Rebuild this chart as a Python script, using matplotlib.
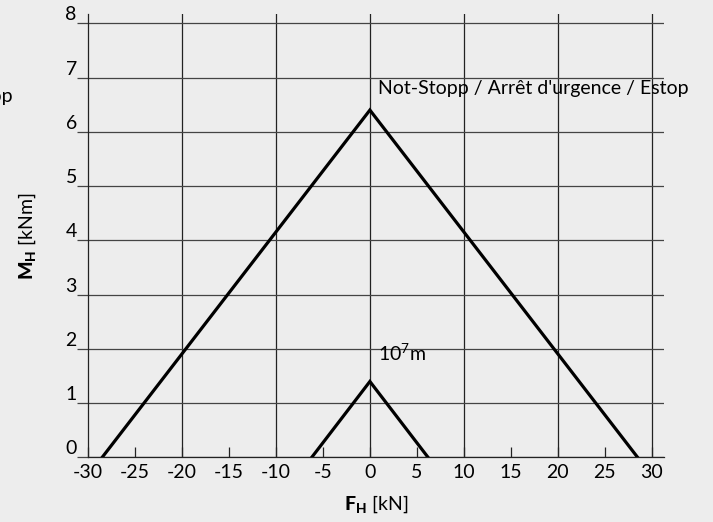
import matplotlib.pyplot as plt

# Lastkurven: Querkraft F_H [kN] gegen Moment M_H [kNm]
estop_f = [-28.5, 0, 28.5]
estop_m = [0, 6.4, 0]
small_f = [-6.2, 0, 6.2]
small_m = [0, 1.4, 0]

x_ticks = list(range(-30, 31, 5))
x_grid = list(range(-20, 31, 10))
y_ticks = list(range(0, 9))

estop_label = "Not-Stopp / Arrêt d'urgence / Estop"
small_label = "10$^7$m"

bg = '#ededed'
plt.rcParams['font.family'] = ['Lato', 'DejaVu Sans']
plt.rcParams['mathtext.fontset'] = 'custom'
plt.rcParams['mathtext.rm'] = 'Lato'
plt.rcParams['mathtext.bf'] = 'Lato:weight=black'

fig = plt.figure(figsize=(7.13, 5.22), dpi=100, facecolor=bg)
ax = fig.add_axes([0.1234, 0.1236, 0.8079, 0.8496])
ax.set_facecolor(bg)

ax.set_xlim(-30, 31.3)
ax.set_ylim(0, 8.17)

# Gitter
for x in x_grid:
    ax.axvline(x, color='#222222', lw=0.9, zorder=1)
for y in y_ticks:
    ax.axhline(y, color='#444444', lw=0.9, zorder=1)

ax.plot(estop_f, estop_m, color='black', lw=2.3, solid_joinstyle='miter', zorder=3)
ax.plot(small_f, small_m, color='black', lw=2.3, solid_joinstyle='miter', zorder=3)

ax.text(0.9, 6.8, estop_label, fontsize=14, va='center', ha='left')
ax.text(0.9, 1.92, small_label, fontsize=14, va='center', ha='left')

for s in ['top', 'right']:
    ax.spines[s].set_visible(False)
ax.spines['left'].set_color('#222222')
ax.spines['bottom'].set_color('#222222')
ax.spines['left'].set_linewidth(0.9)
ax.spines['bottom'].set_linewidth(0.9)

ax.set_xticks(x_ticks)
ax.set_xticklabels([str(v) for v in x_ticks])
ax.tick_params(axis='x', direction='in', length=7, width=0.9, color='#222222',
               pad=5, labelsize=14)
ax.set_yticks(y_ticks)
ax.set_yticklabels([str(v) for v in y_ticks])
ax.tick_params(axis='y', direction='out', length=8, width=0.9, color='#444444',
               pad=0, labelsize=14)
for lab in ax.get_yticklabels():
    lab.set_va('bottom')

ax.set_xlabel('$\\mathbf{F_H}$ [kN]', fontsize=14, labelpad=9)
ax.set_ylabel('$\\mathbf{M_H}$ [kNm]', fontsize=14, labelpad=20)

# abgeschnittener Text am linken Rand
fig.text(13 / 713, 0.815, 'Estop', fontsize=14, ha='right', va='center')

fig.savefig('out.png', dpi=100, facecolor=bg)
